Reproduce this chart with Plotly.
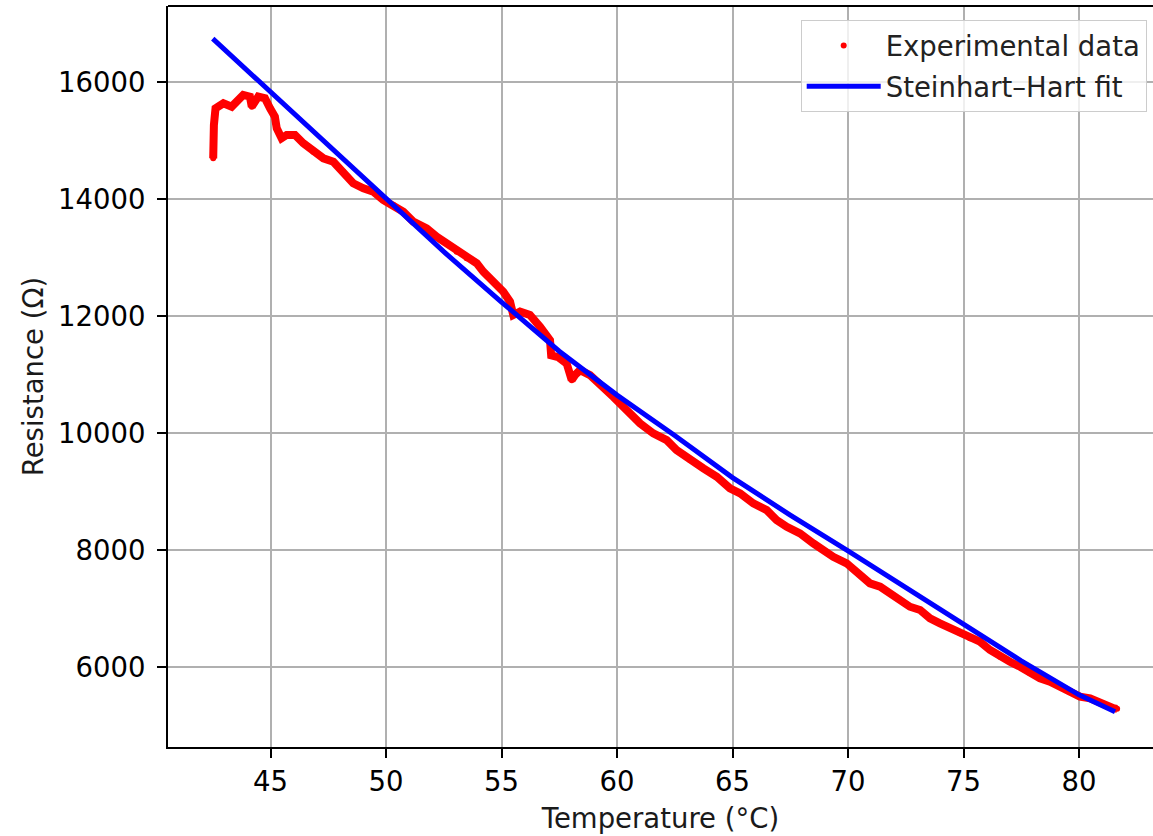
import plotly.graph_objects as go

temp_exp = [42.52, 42.52, 42.53, 42.54, 42.55, 42.62, 42.96, 43.32, 43.54, 43.82, 44.11, 44.19,
            44.47, 44.76, 44.98, 45.19, 45.27, 45.48, 45.70, 46.06, 46.42, 46.85, 47.29, 47.72,
            48.15, 48.58, 49.02, 49.45, 49.88, 50.32, 50.75, 51.18, 51.76, 52.19, 52.63, 53.06,
            53.49, 53.93, 54.21, 54.65, 55.08, 55.37, 55.51, 55.80, 56.23, 56.67, 57.10, 57.15,
            57.45, 57.82, 58.04, 58.20, 58.40, 58.83, 59.26, 59.84, 60.42, 61.00, 61.57, 62.15,
            62.58, 63.16, 63.74, 64.32, 64.89, 65.33, 65.90, 66.48, 66.91, 67.35, 67.92, 68.50,
            68.93, 69.36, 69.94, 70.52, 70.95, 71.39, 71.82, 72.25, 72.68, 73.12, 73.55, 73.98,
            74.42, 74.85, 75.28, 75.71, 76.15, 76.58, 77.01, 77.45, 77.88, 78.31, 78.74, 79.18,
            79.61, 80.04, 80.48, 80.91, 81.49, 81.65]
res_exp = [14696, 14840, 14980, 15130, 15265, 15551, 15636, 15578, 15663, 15778, 15749, 15578,
           15749, 15721, 15551, 15407, 15209, 15038, 15094, 15094, 14953, 14809, 14696, 14638,
           14467, 14269, 14184, 14126, 13984, 13898, 13784, 13613, 13500, 13357, 13243, 13101,
           12988, 12902, 12759, 12588, 12417, 12246, 12019, 12076, 12019, 11816, 11589, 11330,
           11300, 11191, 10906, 11000, 11077, 10991, 10850, 10621, 10394, 10166, 9996, 9881,
           9711, 9540, 9398, 9255, 9057, 8971, 8800, 8686, 8516, 8401, 8288, 8117,
           8003, 7888, 7776, 7590, 7434, 7376, 7263, 7149, 7035, 6978, 6836, 6751,
           6665, 6580, 6495, 6437, 6295, 6181, 6095, 6010, 5897, 5812, 5754, 5668,
           5583, 5498, 5470, 5385, 5300, 5290]

# Steinhart-Hart fit curve
temp_fit = [42.5, 45.0, 47.5, 50.0, 52.5, 55.0, 57.5, 60.0, 62.5, 65.0, 67.5, 70.0, 72.5,
            75.0, 77.5, 80.0, 81.56]
res_fit = [16740, 15830, 14910, 14000, 13100, 12240, 11400, 10650, 9960, 9240, 8600, 7990,
           7370, 6740, 6110, 5530, 5242]

x_ticks = [45, 50, 55, 60, 65, 70, 75, 80]
y_ticks = [6000, 8000, 10000, 12000, 14000, 16000]

FONT = "DejaVu Sans"
FS = 27.5

fig = go.Figure()
fig.add_trace(go.Scatter(x=temp_exp, y=res_exp, mode="lines",
                         line=dict(color="red", width=8), showlegend=False,
                         hoverinfo="skip"))
fig.add_trace(go.Scatter(x=temp_exp, y=res_exp, mode="markers",
                         marker=dict(color="red", size=6),
                         name="Experimental data", legendgroup="a"))
fig.add_trace(go.Scatter(x=temp_fit, y=res_fit, mode="lines",
                         line=dict(color="blue", width=5),
                         name="Steinhart\u2013Hart fit", legendgroup="b"))

fig.update_layout(
    width=1153, height=836,
    margin=dict(l=168, r=0, t=6, b=89),
    paper_bgcolor="white", plot_bgcolor="white",
    font=dict(family=FONT, size=FS, color="black"),
    showlegend=True,
    legend=dict(x=0.9936, y=0.981, xanchor="right", yanchor="top",
                bgcolor="rgba(255,255,255,0.8)", bordercolor="#cccccc", borderwidth=1,
                font=dict(family=FONT, size=FS, color="#222222"),
                itemwidth=74, entrywidth=343, entrywidthmode="pixels",
                traceorder="grouped", tracegroupgap=2),
    shapes=[dict(type="line", xref="paper", yref="paper", x0=0, x1=1, y0=1, y1=1,
                 line=dict(color="black", width=2))],
)
fig.update_xaxes(range=[40.563, 83.203], tickvals=x_ticks, ticktext=[str(v) for v in x_ticks],
                 showgrid=True, gridcolor="#b0b0b0", gridwidth=1.5,
                 showline=True, linecolor="black", linewidth=2, mirror=False,
                 ticks="outside", ticklen=9, tickwidth=2, tickcolor="black",
                 ticklabelstandoff=0, zeroline=False,
                 title=dict(text="Temperature (\u00b0C)", standoff=13,
                            font=dict(family=FONT, size=FS, color="#1a1a1a")))
fig.update_yaxes(range=[4638, 17298], tickvals=y_ticks, ticktext=[str(v) for v in y_ticks],
                 showgrid=True, gridcolor="#b0b0b0", gridwidth=1.5,
                 showline=True, linecolor="black", linewidth=2, mirror=False,
                 ticks="outside", ticklen=9, tickwidth=2, tickcolor="black",
                 ticklabelstandoff=6, zeroline=False,
                 title=dict(text="Resistance (\u03a9)", standoff=6,
                            font=dict(family=FONT, size=FS, color="#1a1a1a")))

fig.write_html("out.html", config={"displayModeBar": False},
               post_script="document.body.style.margin='0px';")
